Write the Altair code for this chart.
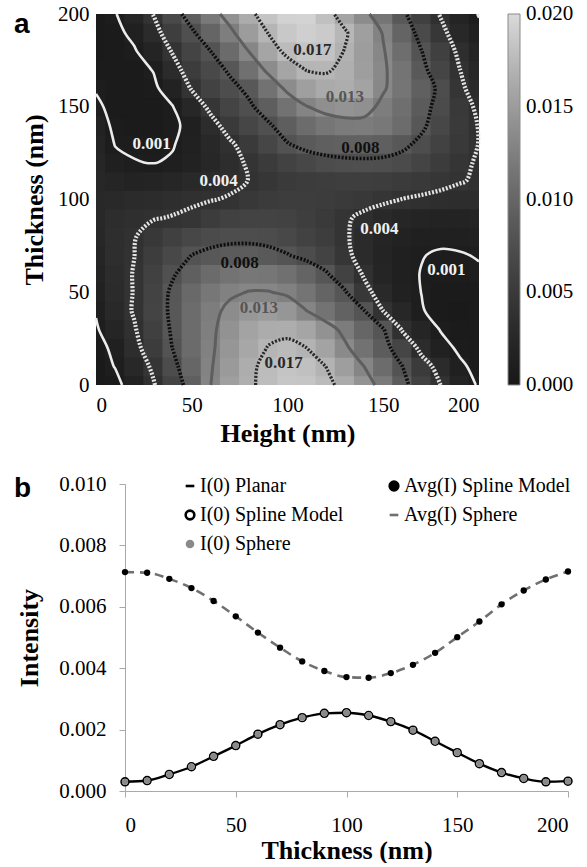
import altair as alt
import pandas as pd
from collections import defaultdict

SERIF = "Liberation Serif"
SANS = "Liberation Sans"

# ---------------------------------------------------------------- data
height_nm = list(range(0, 201, 10))
thickness_nm = list(range(0, 201, 10))

# Panel b (units of 1e-3): I(0) versus thickness and the height-averaged intensity
i0_planar = [0.30, 0.34, 0.54, 0.79, 1.13, 1.48, 1.85, 2.16, 2.39, 2.53, 2.55,
             2.46, 2.26, 1.98, 1.62, 1.25, 0.89, 0.60, 0.41, 0.30, 0.32]
avg_intensity = [7.13, 7.11, 6.91, 6.61, 6.19, 5.69, 5.16, 4.67, 4.22, 3.91, 3.71,
                 3.69, 3.84, 4.11, 4.50, 5.01, 5.52, 6.08, 6.53, 6.89, 7.15]

# Panel a intensity map (units of 1e-3). One row per thickness (0..200 nm),
# columns are heights 10..200 nm; the height-0 column is i0_planar.
intensity_rows = [
    [0.60, 1.70, 3.80, 6.30, 9.30, 13.0, 15.3, 16.6, 17.8, 18.5, 18.4, 17.6, 16.3, 14.3, 12.0, 9.0, 6.0, 3.98, 2.0, 0.80],
    [1.05, 2.60, 4.40, 7.20, 10.0, 12.8, 14.9, 16.5, 17.7, 18.3, 18.0, 17.0, 15.2, 13.0, 10.6, 8.02, 5.2, 3.0, 1.3, 0.50],
    [1.30, 3.30, 5.30, 8.05, 10.5, 12.6, 14.5, 16.0, 17.1, 17.5, 17.0, 15.6, 13.5, 11.2, 9.0, 6.4, 3.2, 1.6, 0.7, 0.50],
    [2.20, 3.80, 5.80, 8.40, 10.6, 12.5, 14.2, 15.6, 16.4, 16.5, 15.8, 14.2, 12.2, 10.0, 8.2, 3.7, 2.1, 0.9, 0.5, 0.50],
    [2.80, 4.20, 6.30, 8.60, 10.6, 12.3, 13.6, 14.6, 15.0, 14.5, 13.0, 11.3, 9.6, 8.1, 3.95, 2.5, 1.1, 0.5, 0.4, 0.50],
    [3.00, 4.10, 6.20, 8.50, 10.3, 11.7, 12.6, 13.1, 13.1, 12.6, 11.4, 9.8, 8.3, 4.8, 2.8, 1.6, 0.98, 0.6, 0.5, 0.60],
    [3.20, 4.10, 5.90, 7.70, 9.30, 10.5, 11.3, 11.7, 11.6, 11.0, 9.8, 8.3, 6.0, 3.7, 2.2, 1.4, 0.95, 0.7, 0.7, 0.80],
    [3.40, 3.98, 5.40, 6.80, 8.02, 8.6, 8.9, 9.0, 8.7, 8.1, 7.2, 6.2, 4.6, 3.0, 2.0, 1.4, 1.05, 0.85, 0.9, 1.10],
    [3.40, 3.90, 4.80, 5.80, 6.60, 7.1, 7.4, 7.4, 7.2, 6.8, 6.1, 5.4, 4.3, 3.0, 2.2, 1.7, 1.4, 1.3, 1.4, 1.60],
    [3.30, 3.60, 3.90, 4.10, 4.40, 5.3, 5.9, 6.2, 6.2, 6.0, 5.6, 5.0, 4.3, 3.5, 2.8, 2.3, 2.0, 1.9, 1.9, 2.00],
    [2.80, 3.00, 3.20, 3.45, 3.70, 3.9, 4.2, 4.8, 5.2, 5.4, 5.4, 5.3, 5.1, 4.8, 4.4, 3.95, 3.7, 3.5, 3.35, 3.30],
    [2.10, 1.90, 2.00, 2.30, 2.70, 3.1, 3.5, 4.05, 4.5, 5.0, 5.3, 5.5, 5.6, 5.6, 5.5, 5.2, 4.9, 4.5, 4.1, 3.80],
    [1.30, 1.05, 0.95, 1.15, 1.70, 2.4, 3.3, 4.3, 5.2, 6.0, 6.7, 7.2, 7.5, 7.6, 7.5, 7.1, 6.3, 5.3, 4.4, 3.80],
    [0.95, 0.80, 0.75, 0.90, 1.60, 2.6, 3.7, 5.0, 6.5, 7.9, 8.8, 9.3, 9.5, 9.5, 9.3, 8.6, 7.4, 6.0, 4.9, 3.95],
    [0.75, 0.60, 0.60, 0.80, 1.30, 3.2, 5.0, 6.5, 7.7, 9.2, 10.6, 11.6, 12.1, 12.2, 11.8, 10.6, 8.5, 6.6, 5.1, 3.90],
    [0.60, 0.50, 0.60, 0.95, 2.50, 4.6, 6.3, 7.6, 9.2, 11.2, 12.9, 13.9, 14.3, 14.0, 12.3, 10.9, 8.9, 7.1, 4.9, 3.60],
    [0.55, 0.50, 0.75, 1.70, 4.20, 6.0, 7.3, 8.6, 11.2, 13.6, 15.3, 16.2, 16.5, 15.6, 13.3, 11.5, 9.4, 7.4, 4.4, 3.00],
    [0.50, 0.60, 1.05, 3.00, 5.30, 6.9, 8.4, 11.0, 13.6, 15.8, 17.1, 17.2, 16.6, 15.2, 13.4, 11.4, 8.7, 6.4, 4.02, 2.50],
    [0.45, 0.85, 2.00, 4.20, 6.30, 8.02, 10.5, 13.1, 15.8, 17.6, 18.4, 18.2, 16.9, 15.1, 13.2, 10.8, 8.05, 5.8, 3.4, 2.00],
    [0.60, 1.40, 3.00, 5.60, 7.60, 9.9, 12.4, 15.0, 17.1, 18.6, 19.2, 18.8, 17.3, 15.3, 12.8, 9.8, 7.0, 4.7, 2.6, 1.40],
    [0.90, 2.20, 4.10, 6.90, 9.20, 11.9, 14.2, 16.4, 18.3, 19.4, 19.5, 18.0, 15.7, 13.6, 11.5, 8.6, 5.8, 3.8, 2.0, 0.90],
]

contour_levels = [0.001, 0.004, 0.008, 0.013, 0.017]

# contour labels on the map
label_text = ["0.001", "0.004", "0.008", "0.013", "0.017",
              "0.017", "0.013", "0.008", "0.004", "0.001"]
label_height = [29, 64, 75, 85, 98, 113, 130, 138, 148, 183]
label_thickness = [130, 110, 66, 41.5, 12, 180.5, 155, 128, 84, 62]

# colour-bar label positions; the two end labels sit a hair inside the range
# so they are centred on the bar ends
colorbar_values = [0.00002, 0.005, 0.010, 0.015, 0.01998]

panel_tags = ["a", "b"]

# legend entries, filled column by column (3 rows)
legend_order = ["I(0) Planar", "I(0) Spline Model", "I(0) Sphere",
                "Avg(I) Spline Model", "Avg(I) Sphere"]

# ---------------------------------------------------------------- grid + contours
grid = [[v * 1e-3 for v in [first] + row]
        for first, row in zip(i0_planar, intensity_rows)]

# each grid value fills the cell around its node; cells overlap slightly so
# no hairline seams show between neighbours
half = 5.3
heat_records = []
for j, t in enumerate(thickness_nm):
    for i, h in enumerate(height_nm):
        heat_records.append({
            "H0": max(0, h - half), "H1": min(200, h + half),
            "T0": max(0, t - half), "T1": min(200, t + half),
            "I": grid[j][i],
        })
heat_df = pd.DataFrame(heat_records)


def trace_contours(values, xs, ys, level):
    """Marching squares: returns a list of polylines [(x, y), ...]."""
    ny, nx = len(ys), len(xs)

    def point_on(edge):
        (i0, j0), (i1, j1) = edge
        va, vb = values[j0][i0], values[j1][i1]
        t = (level - va) / (vb - va)
        return (xs[i0] + t * (xs[i1] - xs[i0]), ys[j0] + t * (ys[j1] - ys[j0]))

    segs = []
    for j in range(ny - 1):
        for i in range(nx - 1):
            corners = [(i, j), (i + 1, j), (i + 1, j + 1), (i, j + 1)]
            inside = [values[c[1]][c[0]] >= level for c in corners]
            cross = []
            for k in range(4):
                if inside[k] != inside[(k + 1) % 4]:
                    a, b = corners[k], corners[(k + 1) % 4]
                    cross.append(tuple(sorted([a, b])))
                else:
                    cross.append(None)
            found = [c for c in cross if c is not None]
            if len(found) == 2:
                segs.append((found[0], found[1]))
            elif len(found) == 4:
                centre = sum(values[c[1]][c[0]] for c in corners) / 4.0
                bottom, right, top, left = cross
                if (centre >= level) == inside[0]:
                    segs.append((bottom, right))
                    segs.append((top, left))
                else:
                    segs.append((left, bottom))
                    segs.append((right, top))

    adj = defaultdict(list)
    for si, (e1, e2) in enumerate(segs):
        adj[e1].append(si)
        adj[e2].append(si)
    used = [False] * len(segs)

    def walk(edge, si):
        path = [edge]
        cur = edge
        while si is not None:
            used[si] = True
            e1, e2 = segs[si]
            nxt = e2 if e1 == cur else e1
            path.append(nxt)
            cur = nxt
            si = next((s for s in adj[nxt] if not used[s]), None)
        return path

    paths = []
    for edge, lst in list(adj.items()):
        if len(lst) == 1 and not used[lst[0]]:
            paths.append(walk(edge, lst[0]))
    for si in range(len(segs)):
        if not used[si]:
            paths.append(walk(segs[si][0], si))
    return [[point_on(e) for e in p] for p in paths]


contour_frames = {}
for level in contour_levels:
    recs = []
    for pid, pts in enumerate(trace_contours(grid, height_nm, thickness_nm, level)):
        for k, (x, y) in enumerate(pts):
            recs.append({"H": x, "T": y, "path": pid, "seq": k})
    contour_frames[level] = pd.DataFrame(recs)

labels_df = pd.DataFrame({"H": label_height, "T": label_thickness, "label": label_text})

# ---------------------------------------------------------------- panel a
axis_common = dict(labelFont=SERIF, labelFontSize=21, labelColor="black",
                   titleFont=SERIF, titleFontSize=26, titleFontWeight="bold",
                   titleColor="black", grid=False)

scale_h = alt.Scale(domain=[0, 200], nice=False)
scale_t = alt.Scale(domain=[0, 200], nice=False)


def xa(field):
    return alt.X(field, type="quantitative", scale=scale_h,
                 axis=alt.Axis(values=[0, 50, 100, 150, 200], title="Height (nm)",
                               ticks=False, tickSize=0, domain=False,
                               labelPadding=9, titlePadding=5, **axis_common))


def ya(field):
    return alt.Y(field, type="quantitative", scale=scale_t,
                 axis=alt.Axis(values=[0, 50, 100, 150, 200], title="Thickness (nm)",
                               ticks=False, tickSize=0, domain=False,
                               labelPadding=7, titlePadding=10, **axis_common))


# grey ramp, interpolated in a gamma space so the dark end stays dark longer
heat_scale = alt.Scale(domain=[0, 0.020], nice=False, range=["#181818", "#dadada"],
                       interpolate=alt.ScaleInterpolateParams(type="rgb", gamma=0.6))

heat = alt.Chart(heat_df).mark_rect().encode(
    x=xa("H0"), x2="H1:Q", y=ya("T0"), y2="T1:Q",
    fill=alt.Fill("I:Q", scale=heat_scale,
                  legend=alt.Legend(type="gradient", orient="none", legendX=412, legendY=0,
                                    title=None,
                                    gradientLength=371, gradientThickness=12,
                                    gradientStrokeColor="#8a8a8a", gradientStrokeWidth=1,
                                    values=colorbar_values, format=".3f",
                                    labelFont=SERIF, labelFontSize=21, labelColor="black",
                                    labelBaseline="middle", labelOffset=6)),
)

level_style = {
    0.001: dict(color="#ececec", strokeWidth=2.6),
    0.004: dict(color="#e4e4e4", strokeWidth=4.2, strokeDash=[2, 1.6]),
    0.008: dict(color="#0e0e0e", strokeWidth=3.6, strokeDash=[2, 1.6]),
    0.013: dict(color="#5e5e5e", strokeWidth=3.0),
    0.017: dict(color="#262626", strokeWidth=3.2, strokeDash=[2, 1.6]),
}

contour_layers = []
for level in contour_levels:
    contour_layers.append(
        alt.Chart(contour_frames[level]).mark_line(
            interpolate="catmull-rom", **level_style[level]
        ).encode(x=xa("H"), y=ya("T"), detail="path:N", order="seq:Q")
    )

label_layer = alt.Chart(labels_df).mark_text(
    font=SERIF, fontSize=17, fontWeight="bold", align="center", baseline="middle"
).encode(
    x=xa("H"), y=ya("T"), text="label:N",
    color=alt.Color("label:N", legend=None,
                    scale=alt.Scale(domain=["0.001", "0.004", "0.008", "0.013", "0.017"],
                                    range=["#f2f2f2", "#f0f0f0", "#101010", "#565656", "#2a2a2a"])),
)

tag_a = alt.Chart(pd.DataFrame({"tag": [panel_tags[0]]})).mark_text(
    font=SANS, fontSize=28, fontWeight="bold", align="left", baseline="alphabetic"
).encode(x=alt.value(-82), y=alt.value(19), text="tag:N")

panel_a = alt.layer(heat, *contour_layers, label_layer, tag_a).properties(
    width=383, height=371)

# ---------------------------------------------------------------- panel b
b_records = []
for name, vals in [("I(0) Planar", i0_planar), ("I(0) Spline Model", i0_planar),
                   ("I(0) Sphere", i0_planar), ("Avg(I) Sphere", avg_intensity),
                   ("Avg(I) Spline Model", avg_intensity)]:
    for t, v in zip(thickness_nm, vals):
        b_records.append({"T": t, "I": v * 1e-3, "series": name})
b_df = pd.DataFrame(b_records)

axis_grey = "#a9a9a9"
xb = alt.X("T:Q", scale=alt.Scale(domain=[0, 200], range=[29, 472], nice=False),
           axis=alt.Axis(values=[0, 50, 100, 150, 200], title="Thickness (nm)",
                         tickSize=6, tickColor=axis_grey, domainColor=axis_grey,
                         labelPadding=17, titlePadding=2, **axis_common))
yb = alt.Y("I:Q", scale=alt.Scale(domain=[0, 0.010], nice=False),
           axis=alt.Axis(values=[0, 0.002, 0.004, 0.006, 0.008, 0.010], format=".3f",
                         title="Intensity", offset=-29,
                         tickSize=6, tickColor=axis_grey, domainColor=axis_grey,
                         labelPadding=13, titlePadding=16, **axis_common))

legend_b = alt.Legend(orient="none", legendX=84, legendY=-8, columns=2, direction="vertical",
                      title=None, labelFont=SERIF, labelFontSize=20, labelColor="black",
                      labelLimit=300, labelOffset=0, columnPadding=40, rowPadding=9,
                      symbolSize=75, symbolStrokeWidth=2.6, padding=0)

fill_scale = alt.Scale(domain=legend_order,
                       range=["transparent", "#ffffff", "#8a8a8a", "#000000", "transparent"])
stroke_scale = alt.Scale(domain=legend_order,
                         range=["#000000", "#000000", "transparent", "#000000", "#707070"])
shape_scale = alt.Scale(domain=legend_order,
                        range=["stroke", "circle", "circle", "circle", "stroke"])


def series_points(name, size, stroke_width):
    return alt.Chart(b_df).transform_filter(alt.datum.series == name).mark_point(
        filled=True, size=size, strokeWidth=stroke_width, opacity=1
    ).encode(
        x=xb, y=yb,
        fill=alt.Fill("series:N", scale=fill_scale, legend=legend_b),
        stroke=alt.Stroke("series:N", scale=stroke_scale, legend=legend_b),
        shape=alt.Shape("series:N", scale=shape_scale, legend=legend_b),
    )


planar_line = alt.Chart(b_df).transform_filter(alt.datum.series == "I(0) Planar").mark_line(
    color="black", strokeWidth=2.4, interpolate="monotone").encode(x=xb, y=yb)
sphere_avg_line = alt.Chart(b_df).transform_filter(alt.datum.series == "Avg(I) Sphere").mark_line(
    color="#707070", strokeWidth=2.6, strokeDash=[9, 6], interpolate="monotone").encode(x=xb, y=yb)

tag_b = alt.Chart(pd.DataFrame({"tag": [panel_tags[1]]})).mark_text(
    font=SANS, fontSize=28, fontWeight="bold", align="left", baseline="alphabetic"
).encode(x=alt.value(-82), y=alt.value(13), text="tag:N")

panel_b = alt.layer(
    planar_line, sphere_avg_line,
    series_points("I(0) Spline Model", 62, 1.6),
    series_points("I(0) Sphere", 40, 0),
    series_points("Avg(I) Spline Model", 40, 0),
    tag_b,
).properties(width=475, height=307)

chart = alt.vconcat(panel_a, panel_b, spacing=27).resolve_scale(
    fill="independent", stroke="independent", shape="independent", color="independent"
).resolve_legend(
    fill="independent", stroke="independent", shape="independent", color="independent"
).properties(
    padding={"left": 14, "top": 3, "right": 0, "bottom": 0},
    background="white",
).configure_view(strokeWidth=0)

chart.save("out.html", embed_options={"renderer": "svg", "actions": False})
